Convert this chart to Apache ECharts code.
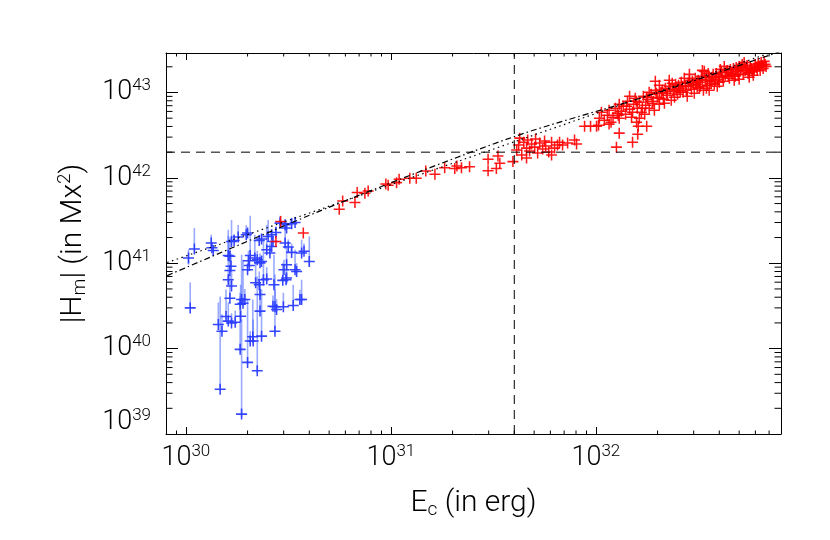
<!DOCTYPE html>
<html>
<head>
<meta charset="utf-8">
<script src="https://cdn.jsdelivr.net/npm/echarts@6/dist/echarts.min.js"></script>
<style>
html, body { margin: 0; padding: 0; background: #fff; }
#chart { width: 830px; height: 540px; }
</style>
</head>
<body>
<div id="chart"></div>
<script>
// values are stored in units of 1e30 erg (E_c) and 1e40 Mx^2 (|H_m|)
const E_UNIT = 1e30;
const H_UNIT = 1e40;

const xRange = [8e29, 8e32];
const yRange = [1e39, 2.9e43];

// labelled decades
const xLabelTicks = [1e30, 1e31, 1e32];
const yLabelTicks = [1e40, 1e41, 1e42, 1e43];
const yLowestTick = [1e39];

// thresholds drawn as dashed lines
const eThreshold = 4e31;
const hThreshold = 2e42;

// blue ARs: [E, |H|, |H| low, |H| high]
const blueE = [1.03, 1.10, 1.05, 1.33, 1.34, 1.36, 1.47, 1.87, 1.84, 2.0, 2.23, 1.44, 1.50, 1.57, 1.61, 1.67, 1.74, 1.85, 1.90, 1.87,
  2.12, 2.13, 2.34, 2.72, 2.30, 2.72, 2.99, 3.34, 3.67, 2.19, 2.28, 2.39, 2.48, 2.69, 2.97, 3.10, 1.61, 1.64, 1.66, 1.61,
  1.64, 1.67, 1.72, 1.80, 1.97, 2.0, 2.06, 2.02, 2.04, 2.0, 2.17, 2.23, 2.30, 2.34, 2.48, 2.57, 2.62, 2.28, 2.34, 2.52,
  2.62, 2.75, 2.66, 2.88, 3.05, 3.28, 3.41, 3.10, 3.05, 3.16, 3.28, 3.10, 3.01, 3.41, 3.47, 3.08, 3.67, 3.77, 4.0, 3.6,
  1.64, 1.67, 1.94, 1.84, 2.30, 2.66, 2.77, 2.06];
const blueH = [11.5, 14.7, 3.0, 17.3, 15.2, 14.1, 0.335, 0.171, 0.98, 0.69, 0.55, 1.92, 1.60, 2.38, 2.1, 2.0, 2.04, 2.4, 3.4, 3.76,
  1.38, 1.23, 1.40, 1.60, 2.75, 3.09, 3.09, 3.2, 3.76, 5.9, 5.6, 6.4, 6.55, 5.6, 6.3, 6.7, 6.4, 8.2, 9.2, 12.3,
  12.1, 18, 18.5, 20.3, 21.6, 22.6, 12.3, 10.7, 9.4, 8.4, 11.5, 11.0, 10.1, 10.5, 14.4, 13.2, 15.7, 18.5, 19.2, 20.6,
  21.6, 22.9, 18.0, 29.5, 28.3, 29, 30, 25.8, 17.3, 15.5, 13.4, 9.6, 8.4, 8.4, 8.0, 6.4, 13.2, 13.8, 10.5, 3.76,
  3.9, 5.4, 3.76, 3.3, 4.3, 3.14, 2.88, 1.23];
const blueLow = [9.6, 13.7, 2.9, 16.1, 14.5, 13.5, 0.32, 0.158, 0.93, 0.65, 0.52, 1.82, 1.5, 2.2, 2.0, 1.9, 1.95, 2.25, 3.2, 3.55,
  1.28, 1.15, 1.32, 1.5, 2.6, 2.9, 2.9, 3.05, 3.5, 5.5, 5.3, 5.95, 6.2, 5.2, 6.0, 6.4, 5.95, 7.8, 8.8, 11.7,
  11.5, 17, 17.5, 19, 20, 21.5, 11.7, 10.2, 9.0, 8.0, 10.8, 10.5, 9.6, 10.0, 13.7, 12.5, 15.0, 17.5, 18.3, 19.5,
  20.5, 21.8, 17.0, 27.5, 27, 27.5, 28.5, 24.5, 16, 14.8, 12.7, 9.0, 8.0, 7.8, 7.6, 6.1, 12.3, 13.0, 9.2, 3.3,
  3.75, 5.1, 3.55, 3.1, 4.1, 3.0, 2.7, 1.15];
const blueHigh = [14.4, 25.9, 5.96, 21.6, 16.5, 15.0, 4.07, 2.2, 4.07, 3.76, 7.0, 3.47, 2.52, 4.93, 3.5, 2.6, 2.8, 5.6, 11, 12.6,
  3.76, 2.2, 4.93, 4.93, 5.6, 7.4, 4.5, 5.6, 6.4, 11, 8.0, 19, 9.0, 12.6, 10, 9.0, 24.6, 20, 13, 21,
  14, 32, 22, 28, 28, 25, 36, 14, 12, 10, 21.6, 14, 13, 12.5, 28, 17, 19, 21, 22, 32,
  25, 27, 21, 36, 32, 34, 35, 29, 32, 19, 17, 16, 11, 14.4, 10, 8.0, 18.9, 17, 20.6, 4.9,
  7.4, 8.0, 5.0, 4.5, 6.0, 4.2, 3.8, 1.6];

// red ARs: E and |H|
const redE = [2.90, 2.75, 3.74, 5.60, 5.82, 6.68, 6.85, 7.47, 7.75, 9.45, 9.7, 10.66, 10.97, 12.37, 13.3, 14.8, 16.4, 18.3, 20.5, 21.0,
  22.1, 24.2, 29.8, 29.8, 33.3, 34.0, 32.7, 39.4,
  41.1, 42.0, 43.5, 44.5, 45.9, 47.5, 48.6, 50.3, 52.0, 53.2, 55.0, 56.9, 58.9, 60.8, 62.9, 65.0, 46.5, 50.8, 56.2, 42.5, 45.9, 60.8,
  66.5, 68.8, 72.8, 78.7, 80.5,
  88.1, 94.2, 100.8, 103, 126, 130, 151, 160, 161, 177, 158, 195, 331, 346,
  104, 106.4, 110, 113.8, 116, 118.6, 121.3, 124.4, 127.2, 130, 130, 133, 136, 139.6, 142.7, 146, 149.3, 152.7, 155.7, 159.3,
  163, 166.7, 170.5, 175, 178.9, 182, 186.1, 190.4, 195.2, 199.6, 204, 208.6, 213.4, 218.4, 223.4, 228, 233.2, 238.5, 244.7, 250.3,
  255, 260.8, 266.7, 273, 279.2, 286, 292.5, 299.1, 305.4, 312.3, 320, 327.3, 334.7, 341.8, 349.6, 357, 365.1, 373.4, 382.3, 390.9,
  400, 409.1, 418.4, 427.8, 437.5, 448, 458.2, 468.6, 478.3, 489.2, 500, 511.4, 523, 535, 547.1, 560, 572.7, 585.7, 598.7, 612.2,
  626, 640.2, 654.7, 669.5,
  173, 193, 216, 242, 270, 302, 338, 378, 423, 473, 529, 592, 146, 116, 286, 357, 500, 560, 320, 400, 204, 182, 163, 228,
  263.7, 276.1, 295.8, 308.9, 331, 345.7, 361, 369.2, 386.6, 395.4, 404.5, 413.7, 432.6, 442.4, 453.1, 463.3, 483.7, 494.7, 505.7, 517.1,
  541, 553.3, 566.3, 579.2, 605.4, 619.2, 633.1, 647.4, 662, 677, 204, 211, 220.9, 230.6, 235.8, 247.5, 253.1, 257.9, 282.4, 289.2,
  315.9, 323.6, 353.5, 128.6, 141.1, 151, 157.5, 168.6, 176.9, 188.2, 197.4];
const redH = [30.8, 18.0, 22.6, 43, 53.7, 51.4, 67.2, 66.1, 70.3, 84.9, 82, 87.9, 96.3, 98.9, 98.9, 120, 110, 131, 129, 138,
  131, 135, 165, 121, 180, 148, 129, 155,
  212, 242, 185, 262, 223, 206, 249, 229, 195, 256, 218, 236, 201, 262, 223, 242, 277, 285, 270, 292, 171, 185,
  262, 242, 256, 277, 249,
  403, 403, 403, 414, 229, 334, 262, 325, 403, 403, 449, 1351, 1815, 1119,
  500, 588, 474, 542, 620, 449, 514, 654, 572, 728, 500, 604, 690, 557, 790, 637, 514, 728, 856, 654,
  769, 588, 903, 709, 833, 654, 953, 790, 1061, 879, 728, 1005, 833, 1119, 928, 1181, 811, 1033, 1246, 953,
  1119, 1315, 1005, 1181, 903, 1387, 1090, 1246, 1464, 1150, 1315, 1545, 1061, 1387, 1213, 1504, 1280, 1630, 1387, 1181,
  1545, 1720, 1351, 1587, 1815, 1464, 1674, 1915, 1545, 1767, 1425, 1967, 1630, 1815, 2076, 1720, 1915, 1587, 2133, 1815,
  2021, 2251, 1915, 2133,
  557, 620, 748, 879, 1464, 979, 1767, 1246, 2021, 1387, 2251, 1864, 903, 426, 1630, 1061, 2021, 1504, 1119, 1315, 1213, 1005, 500, 1387,
  1181, 1061, 1351, 1246, 1425, 1545, 1351, 1504, 1674, 1425, 1864, 1504, 1720, 1545, 1864, 1587, 1967, 1630, 1815, 2133,
  1915, 1674, 2021, 1767, 1967, 2191, 1815, 2076, 2313, 2021, 856, 1061, 979, 1090, 1280, 1061, 1213, 1005, 1280, 1213,
  1387, 1181, 1674, 542, 690, 588, 790, 654, 879, 748, 979];

// power-law fit (dotted) and curved fit (dash-dot)
const fitLineE = [8.11e29, 7.02e32];
const fitLineH = [1.02e41, 2.89e43];
const fitCurveE = [8.11e29, 5.05e30, 3.93e31, 1.83e32, 7.98e32];
const fitCurveH = [7.16e40, 4.57e41, 3.0e42, 9.27e42, 3.03e43];

const FONT = 'Roboto';
const WEIGHT = 300;
const plusPath = 'path://M4.3,0H5.7V4.3H10V5.7H5.7V10H4.3V5.7H0V4.3H4.3Z';

// minor ticks at 2..9 times each decade
function minorTicks(range, d0, d1) {
  let out = [];
  for (let d = d0; d <= d1; d++) {
    for (let m = 2; m <= 9; m++) {
      let v = m * Math.pow(10, d);
      if (v > range[0] && v < range[1]) out.push(v);
    }
  }
  return out;
}
const xMinor = minorTicks(xRange, 29, 32);
const yMinor = minorTicks(yRange, 38, 43);

function powLabel(value) {
  let e = Math.log10(value);
  let r = Math.round(e);
  if (Math.abs(e - r) > 1e-6) return '';
  return '{b|10}{s|' + r + '}';
}

const txt = { fontFamily: FONT, fontWeight: WEIGHT, color: '#000' };
const labelRich = {
  b: Object.assign({ fontSize: 27, lineHeight: 30 }, txt),
  s: Object.assign({ fontSize: 17, verticalAlign: 'top', lineHeight: 18 }, txt)
};
const nameRich = {
  n: Object.assign({ fontSize: 30, lineHeight: 34 }, txt),
  sub: Object.assign({ fontSize: 19, verticalAlign: 'bottom' }, txt),
  sup: Object.assign({ fontSize: 19, verticalAlign: 'top' }, txt)
};

const tickStyle = { stroke: '#000', lineWidth: 1 };

const blueBars = blueE.map((e, i) => [e * E_UNIT, blueLow[i] * H_UNIT, blueHigh[i] * H_UNIT]);
const bluePts = blueE.map((e, i) => [e * E_UNIT, blueH[i] * H_UNIT]);
const redPts = redE.map((e, i) => [e * E_UNIT, redH[i] * H_UNIT]);

let myChart = echarts.init(document.getElementById('chart'));

let option = {
  animation: false,
  backgroundColor: '#fff',
  grid: { left: 166, right: 49, top: 53, bottom: 106 },
  xAxis: [
    {
      type: 'log',
      min: xRange[0],
      max: xRange[1],
      position: 'bottom',
      name: '{n|E}{sub|c}{n| (in erg)}',
      nameLocation: 'middle',
      nameGap: 52,
      nameTextStyle: { rich: nameRich },
      splitLine: { show: false },
      axisLine: { show: true, onZero: false, lineStyle: { color: '#000', width: 1 } },
      axisTick: { inside: true, length: 7, lineStyle: { color: '#000' } },
      axisLabel: { margin: 9, customValues: xLabelTicks, formatter: powLabel, rich: labelRich }
    },
    {
      type: 'log',
      min: xRange[0],
      max: xRange[1],
      position: 'top',
      splitLine: { show: false },
      axisLine: { show: true, onZero: false, lineStyle: { color: '#000', width: 1 } },
      axisTick: { inside: true, length: 7, lineStyle: { color: '#000' } },
      axisLabel: { show: false }
    }
  ],
  yAxis: [
    {
      type: 'log',
      min: yRange[0],
      max: yRange[1],
      position: 'left',
      name: '{n||H}{sub|m}{n|| (in Mx}{sup|2}{n|)}',
      nameLocation: 'middle',
      nameRotate: 90,
      nameGap: 76,
      nameTextStyle: { rich: nameRich },
      splitLine: { show: false },
      axisLine: { show: true, onZero: false, lineStyle: { color: '#000', width: 1 } },
      axisTick: { inside: true, length: 12, lineStyle: { color: '#000' } },
      axisLabel: { margin: 15, customValues: yLabelTicks, formatter: powLabel, rich: labelRich }
    },
    {
      type: 'log',
      min: yRange[0],
      max: yRange[1],
      position: 'right',
      splitLine: { show: false },
      axisLine: { show: true, onZero: false, lineStyle: { color: '#000', width: 1 } },
      axisTick: { inside: true, length: 12, lineStyle: { color: '#000' } },
      axisLabel: { show: false }
    },
    {
      // carries only the lowest label, which sits just above its tick
      type: 'log',
      min: yRange[0],
      max: yRange[1],
      position: 'left',
      splitLine: { show: false },
      axisLine: { show: false },
      axisTick: { show: false },
      axisLabel: {
        margin: 15,
        verticalAlign: 'bottom',
        padding: [0, 0, -3, 0],
        customValues: yLowestTick,
        formatter: powLabel,
        rich: labelRich
      }
    }
  ],
  series: [
    {
      // minor ticks on bottom and top
      type: 'custom',
      silent: true,
      data: xMinor.map(v => [v, yRange[0]]),
      renderItem: function (params, api) {
        let lo = api.coord([api.value(0), yRange[0]]);
        let hi = api.coord([api.value(0), yRange[1]]);
        return {
          type: 'group',
          children: [
            { type: 'line', shape: { x1: lo[0], y1: lo[1], x2: lo[0], y2: lo[1] - 3.5 }, style: tickStyle },
            { type: 'line', shape: { x1: hi[0], y1: hi[1], x2: hi[0], y2: hi[1] + 3.5 }, style: tickStyle }
          ]
        };
      }
    },
    {
      // minor ticks on left and right
      type: 'custom',
      silent: true,
      data: yMinor.map(v => [xRange[0], v]),
      renderItem: function (params, api) {
        let l = api.coord([xRange[0], api.value(1)]);
        let r = api.coord([xRange[1], api.value(1)]);
        return {
          type: 'group',
          children: [
            { type: 'line', shape: { x1: l[0], y1: l[1], x2: l[0] + 6.5, y2: l[1] }, style: tickStyle },
            { type: 'line', shape: { x1: r[0], y1: r[1], x2: r[0] - 6.5, y2: r[1] }, style: tickStyle }
          ]
        };
      }
    },
    {
      // |H| error bars of the blue set
      type: 'custom',
      silent: true,
      data: blueBars,
      encode: { x: 0, y: [1, 2] },
      renderItem: function (params, api) {
        let a = api.coord([api.value(0), api.value(1)]);
        let b = api.coord([api.value(0), api.value(2)]);
        return {
          type: 'line',
          shape: { x1: a[0], y1: a[1], x2: b[0], y2: b[1] },
          style: { stroke: 'rgba(70,100,255,0.55)', lineWidth: 1.6 }
        };
      }
    },
    {
      type: 'scatter',
      data: bluePts,
      symbol: plusPath,
      symbolSize: 11,
      itemStyle: { color: '#2a3cff', opacity: 0.95 }
    },
    {
      type: 'scatter',
      data: redPts,
      symbol: plusPath,
      symbolSize: 11,
      itemStyle: { color: '#ff0000', opacity: 0.9 }
    },
    {
      type: 'line',
      data: [[eThreshold, yRange[0]], [eThreshold, yRange[1]]],
      symbol: 'none',
      lineStyle: { color: '#000', width: 1, type: [9, 6] }
    },
    {
      type: 'line',
      data: [[xRange[0], hThreshold], [xRange[1], hThreshold]],
      symbol: 'none',
      lineStyle: { color: '#000', width: 1, type: [9, 6] }
    },
    {
      type: 'line',
      data: fitLineE.map((e, i) => [e, fitLineH[i]]),
      symbol: 'none',
      lineStyle: { color: '#000', width: 1.2, type: [1.5, 3.5] }
    },
    {
      type: 'line',
      data: fitCurveE.map((e, i) => [e, fitCurveH[i]]),
      symbol: 'none',
      smooth: 0.3,
      clip: true,
      lineStyle: { color: '#000', width: 1.2, type: [6, 3, 1.5, 3] }
    }
  ]
};

myChart.setOption(option);
</script>
</body>
</html>
